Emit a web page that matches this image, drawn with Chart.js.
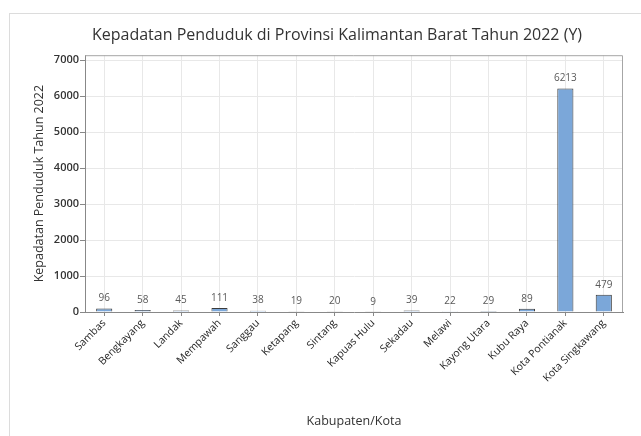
<!DOCTYPE html>
<html>
<head>
<meta charset="utf-8">
<script src="https://cdn.jsdelivr.net/npm/chart.js@4.4.1/dist/chart.umd.min.js"></script>
<style>
  html, body { margin: 0; padding: 0; background: #fff; }
  #wrap { position: relative; width: 641px; height: 436px; overflow: hidden; }
  #frame { position: absolute; left: 9px; top: 13px; width: 700px; height: 500px;
           border-left: 1px solid #dcdcdc; border-top: 1px solid #dcdcdc; }
  #chart { position: absolute; left: 0; top: 0; }
</style>
</head>
<body>
<div id="wrap">
  <div id="frame"></div>
  <canvas id="chart" width="641" height="436"></canvas>
</div>
<script>
// Kepadatan penduduk per kabupaten/kota, Kalbar 2022
const kabupaten = ['Sambas', 'Bengkayang', 'Landak', 'Mempawah', 'Sanggau', 'Ketapang', 'Sintang',
  'Kapuas Hulu', 'Sekadau', 'Melawi', 'Kayong Utara', 'Kubu Raya', 'Kota Pontianak', 'Kota Singkawang'];
const kepadatan = [96, 58, 45, 111, 38, 19, 20, 9, 39, 22, 29, 89, 6213, 479];
const yTicks = [0, 1000, 2000, 3000, 4000, 5000, 6000, 7000];
const yMax = 7140;

const FONT = "'Open Sans', 'Noto Sans', sans-serif";

// etiquetas encima de cada barra
const labelBarras = {
  id: 'labelBarras',
  afterDatasetsDraw(chart) {
    const ctx = chart.ctx;
    const meta = chart.getDatasetMeta(0);
    ctx.save();
    ctx.font = `10px ${FONT}`;
    ctx.fillStyle = '#595959';
    ctx.textAlign = 'center';
    ctx.textBaseline = 'bottom';
    meta.data.forEach((bar, i) => {
      ctx.fillText(String(kepadatan[i]), bar.x, bar.y - 5);
    });
    ctx.restore();
  }
};

// marco del area de datos (arriba y derecha)
const marcoPlot = {
  id: 'marcoPlot',
  afterDraw(chart) {
    const { ctx, chartArea: a } = chart;
    ctx.save();
    ctx.strokeStyle = '#a6a6a6';
    ctx.lineWidth = 1;
    ctx.beginPath();
    ctx.moveTo(a.left, a.top + 0.5);
    ctx.lineTo(a.right - 0.5, a.top + 0.5);
    ctx.lineTo(a.right - 0.5, a.bottom);
    ctx.stroke();
    ctx.restore();
  }
};

new Chart(document.getElementById('chart'), {
  type: 'bar',
  data: {
    labels: kabupaten,
    datasets: [{
      data: kepadatan,
      backgroundColor: '#7ba7d9',
      borderColor: '#3a3a3a',
      borderWidth: 1,
      barPercentage: 0.42,
      categoryPercentage: 1
    }]
  },
  options: {
    responsive: false,
    animation: false,
    layout: { padding: { left: 51, right: 18, top: 0, bottom: 0 } },
    plugins: {
      legend: { display: false },
      tooltip: { enabled: false },
      title: {
        display: true,
        text: 'Kepadatan Penduduk di Provinsi Kalimantan Barat Tahun 2022 (Y)',
        color: '#333',
        font: { family: FONT, size: 16, weight: 'normal' },
        padding: { top: 26, bottom: 10 }
      }
    },
    scales: {
      x: {
        grid: { offset: false, color: '#e8e8e8', tickColor: '#888', tickLength: 4 },
        border: { color: '#888' },
        ticks: {
          autoSkip: false, minRotation: 45, maxRotation: 45,
          color: '#262626', font: { family: FONT, size: 10.5 }, padding: 1
        },
        title: {
          display: true, text: 'Kabupaten/Kota', color: '#333',
          font: { family: FONT, size: 12.5 }, padding: { top: 0, bottom: 7 }
        },
        afterFit(s) { s.height = 124; }
      },
      y: {
        min: 0, max: yMax,
        grid: { color: '#e8e8e8', tickColor: '#888', tickLength: 5 },
        border: { color: '#888' },
        afterBuildTicks(s) { s.ticks = yTicks.map(v => ({ value: v })); },
        ticks: {
          callback: v => String(v),
          color: '#333', font: { family: FONT, size: 11, weight: 600 }, padding: 1
        },
        title: {
          display: true, text: 'Kepadatan Penduduk Tahun 2022', color: '#333',
          font: { family: FONT, size: 12.5 }, padding: { top: -19, bottom: 0 }
        },
        afterFit(s) { s.width = 34; }
      }
    }
  },
  plugins: [labelBarras, marcoPlot]
});
</script>
</body>
</html>
